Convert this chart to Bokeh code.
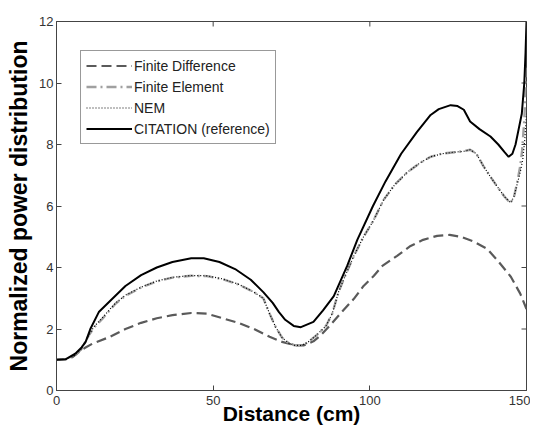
import math
from bokeh.plotting import figure
from bokeh.models import Range1d, FixedTicker, Legend, LegendItem
from bokeh.embed import file_html
from bokeh.resources import INLINE

# ---- data ----
cit_x = [0, 3, 6, 8, 9.3, 10.8, 13.5, 18.8, 22, 27, 32, 37, 43, 47, 52, 57, 62, 66, 69, 71,
         73, 75.7, 78, 82, 85, 88.5, 92.8, 96, 101, 105, 110, 115, 119.4, 122, 125.8, 128,
         130, 132, 135, 138.5, 141, 143, 144.3, 145.5, 146.5, 147.5, 148.5, 149.3, 149.7, 150]
cit_y = [1.0, 1.02, 1.2, 1.4, 1.58, 2.0, 2.55, 3.08, 3.4, 3.75, 4.0, 4.18, 4.3, 4.3, 4.18,
         3.95, 3.6, 3.2, 2.85, 2.55, 2.3, 2.1, 2.06, 2.23, 2.6, 3.07, 4.06, 4.9, 6.0, 6.8,
         7.7, 8.4, 8.96, 9.15, 9.28, 9.25, 9.13, 8.75, 8.5, 8.26, 8.0, 7.75, 7.6, 7.7, 8.0,
         8.5, 9.0, 10.0, 11.0, 12.0]

fe_x = [0, 3, 6, 8, 10.3, 12, 14.6, 18.8, 22, 27, 32, 37, 43, 48, 53, 58, 63, 66, 68, 70,
        72, 74, 76, 78, 80, 83, 86, 88, 90, 92, 95, 98, 101, 104.4, 108, 112, 116, 119.4,
        123, 127, 130, 132, 134, 136.3, 138.5, 140.6, 143, 144.9, 146, 147, 148, 148.6,
        149.3, 150]
fe_y = [1.0, 1.02, 1.15, 1.35, 1.79, 2.05, 2.33, 2.82, 3.08, 3.35, 3.55, 3.67, 3.73, 3.72,
        3.62, 3.45, 3.2, 3.0, 2.5, 2.05, 1.72, 1.55, 1.47, 1.47, 1.55, 1.8, 2.1, 2.5, 3.2,
        3.7, 4.4, 5.0, 5.5, 6.2, 6.7, 7.1, 7.4, 7.6, 7.7, 7.75, 7.78, 7.83, 7.7, 7.29, 6.95,
        6.64, 6.3, 6.1, 6.3, 6.75, 7.3, 7.8, 8.8, 10.5]

nem_x = [0, 3, 6, 8, 10.3, 12, 14.6, 18.8, 22, 27, 32, 37, 43, 48, 53, 58, 63, 66, 68, 70,
         72, 74, 76, 78, 80, 83, 86, 88, 90, 92, 95, 98, 101, 104.4, 108, 112, 116, 119.4,
         123, 127, 130, 132, 134, 136.3, 138.5, 140.6, 143, 144.9, 146, 147, 148, 148.8,
         149.5, 150]
nem_y = [1.0, 1.02, 1.15, 1.35, 1.8, 2.08, 2.36, 2.84, 3.1, 3.36, 3.56, 3.68, 3.74, 3.73,
         3.63, 3.46, 3.2, 3.0, 2.5, 2.05, 1.72, 1.55, 1.47, 1.47, 1.55, 1.8, 2.1, 2.5, 3.2,
         3.7, 4.4, 5.0, 5.5, 6.2, 6.7, 7.1, 7.4, 7.6, 7.7, 7.75, 7.78, 7.83, 7.7, 7.29, 6.95,
         6.64, 6.3, 6.1, 6.3, 6.7, 7.1, 7.5, 8.2, 9.0]

fd_x = [0, 3, 5, 7.1, 9, 11.4, 16.7, 22, 27, 32, 37, 43, 48, 53, 58, 63, 68, 72, 76, 79,
        82, 84.3, 88, 91, 94.9, 98, 101.3, 104, 108.7, 113, 117, 121.5, 125.5, 129, 133,
        137.5, 141, 145, 148, 150]
fd_y = [1.0, 1.02, 1.08, 1.25, 1.38, 1.52, 1.73, 2.0, 2.2, 2.35, 2.45, 2.52, 2.5, 2.35,
        2.2, 2.0, 1.75, 1.58, 1.47, 1.47, 1.6, 1.79, 2.2, 2.55, 2.98, 3.4, 3.73, 4.05, 4.38,
        4.7, 4.9, 5.03, 5.06, 5.0, 4.85, 4.6, 4.2, 3.7, 3.15, 2.65]

x_ticks = [0, 50, 100, 150]
y_ticks = [0, 2, 4, 6, 8, 10, 12]
x_lim = (0, 150)
y_lim = (0, 12)
labels = ["Finite Difference", "Finite Element", "NEM", "CITATION (reference)"]

FONT = "Liberation Sans"
AX = "#444444"

p = figure(width=530, height=427, output_backend="svg", toolbar_location=None,
           x_range=Range1d(*x_lim), y_range=Range1d(*y_lim),
           min_border_left=56, min_border_right=4, min_border_top=21, min_border_bottom=35)
p.xgrid.visible = False
p.ygrid.visible = False
p.outline_line_color = AX
p.outline_line_width = 1
p.background_fill_color = "white"
p.border_fill_color = "white"

for ax, ticks in ((p.xaxis[0], x_ticks), (p.yaxis[0], y_ticks)):
    ax.ticker = FixedTicker(ticks=ticks)
    ax.axis_line_color = AX
    ax.major_tick_line_color = AX
    ax.major_tick_in = 5
    ax.major_tick_out = 0
    ax.minor_tick_line_color = None
    ax.major_label_text_font = FONT
    ax.major_label_text_font_size = "13px"
    ax.major_label_text_color = "#333333"
    ax.major_label_standoff = 3
    ax.axis_label_text_font = FONT
    ax.axis_label_text_font_style = "bold"
    ax.axis_label_text_color = "black"
p.xaxis[0].axis_label = "Distance (cm)"
p.yaxis[0].axis_label = "Normalized power distribution"
p.xaxis[0].axis_label_text_font_size = "21px"
p.yaxis[0].axis_label_text_font_size = "23px"
p.xaxis[0].major_label_standoff = 5
p.xaxis[0].axis_label_standoff = -6
p.yaxis[0].axis_label_standoff = 4

# box ticks on the top and right borders (half of each dash is clipped by the frame)
p.scatter(x_ticks, [y_lim[1]] * len(x_ticks), marker="dash", size=10, angle=math.pi / 2,
          line_color=AX, line_width=1)
p.scatter([x_lim[1]] * len(y_ticks), y_ticks, marker="dash", size=10,
          line_color=AX, line_width=1)

r_fd = p.line(fd_x, fd_y, line_color="#5a5a5a", line_width=2.2, line_dash="10 5")
r_fe = p.line(fe_x, fe_y, line_color="#a0a0a0", line_width=2.4, line_dash="10 4 2 4")
r_nem = p.line(nem_x, nem_y, line_color="black", line_width=1.2, line_dash="1 2")
r_cit = p.line(cit_x, cit_y, line_color="black", line_width=2)

legend = Legend(items=[LegendItem(label=labels[0], renderers=[r_fd]),
                       LegendItem(label=labels[1], renderers=[r_fe]),
                       LegendItem(label=labels[2], renderers=[r_nem]),
                       LegendItem(label=labels[3], renderers=[r_cit])],
                location=(24, 246))
legend.label_text_font = FONT
legend.label_text_font_size = "14px"
legend.label_text_color = "#222222"
legend.glyph_width = 46
legend.glyph_height = 19
legend.label_height = 19
legend.label_standoff = 2
legend.spacing = 2
legend.padding = 5
legend.margin = 0
legend.border_line_color = "#333333"
legend.border_line_width = 1
legend.background_fill_alpha = 1
p.add_layout(legend, "center")

open("out.html", "w").write(file_html(p, INLINE))
